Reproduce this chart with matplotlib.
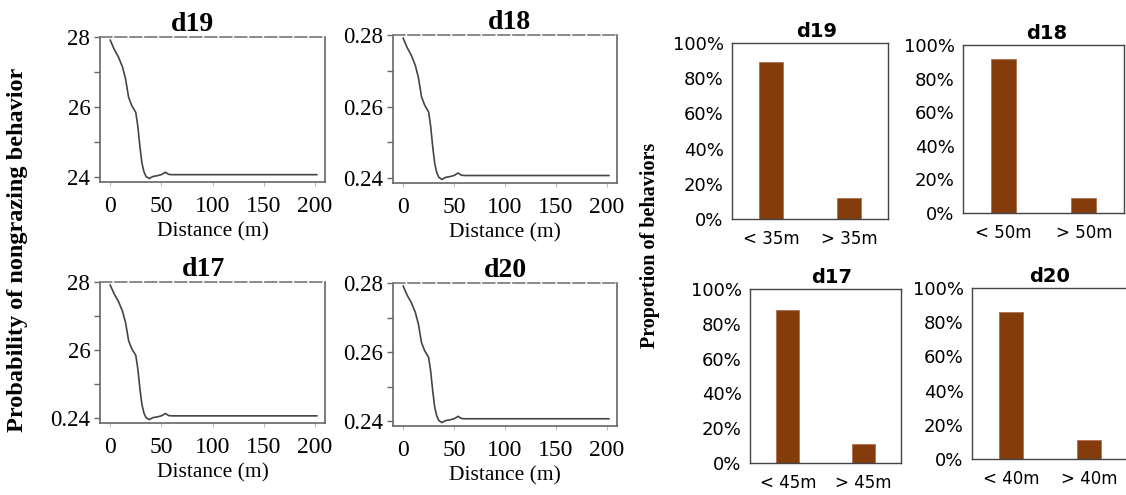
import matplotlib
matplotlib.use("Agg")
import matplotlib.pyplot as plt
from matplotlib.ticker import PercentFormatter

# smoothed probability curve (same shape in every line panel)
distance = [0, 4, 8, 12, 15, 18, 21, 25, 27, 29, 31, 33, 35, 38, 42, 46, 50, 54, 57, 60, 100, 150, 202]
probability = [0.2792, 0.2765, 0.2744, 0.2715, 0.2681, 0.2628, 0.2605, 0.2585, 0.2545, 0.2488,
               0.2440, 0.2415, 0.2402, 0.2396, 0.2402, 0.2404, 0.2407, 0.2414, 0.2408, 0.2407,
               0.2407, 0.2407, 0.2407]

line_titles = ["d19", "d18", "d17", "d20"]
line_ylabels = [["24", "26", "28"], ["0.24", "0.26", "0.28"],
                ["0.24", "26", "28"], ["0.24", "0.26", "0.28"]]

bar_titles = ["d19", "d18", "d17", "d20"]
bar_cats = [["< 35m", "> 35m"], ["< 50m", "> 50m"], ["< 45m", "> 45m"], ["< 40m", "> 40m"]]
bar_vals = [[0.89, 0.12], [0.915, 0.088], [0.877, 0.109], [0.861, 0.109]]

W, H = 1126, 495
fig = plt.figure(figsize=(W / 100, H / 100), dpi=100)


def rect(l, t, r, b):
    return [l / W, 1 - b / H, (r - l) / W, (b - t) / H]


serif = "Liberation Serif"

# left block: line plots
line_boxes = [(100, 37, 325, 182), (393, 35, 617, 183), (100, 282, 325, 423), (393, 283, 617, 426)]
title_x = [0.41, 0.52, 0.46, 0.50]
for i, box in enumerate(line_boxes):
    ax = fig.add_axes(rect(*box))
    ax.plot(distance, probability, color="#444444", lw=1.2)
    ax.set_xlim(-10, 210)
    ax.set_ylim(0.2386, 0.2801)
    ax.set_xticks([0, 50, 100, 150, 200])
    ax.set_yticks([0.24, 0.26, 0.28])
    ax.set_yticklabels(line_ylabels[i])
    ax.set_yticks([0.25, 0.27], minor=True)
    ax.tick_params(axis="y", which="both", length=4, width=1, color="#666666", pad=3)
    ax.tick_params(axis="x", length=3, width=0.8, color="#bbbbbb", pad=7)
    for lab in ax.get_xticklabels():
        lab.set_fontfamily(serif)
        lab.set_fontsize(17)
    for lab in ax.get_yticklabels():
        lab.set_fontfamily(serif)
        lab.set_fontsize(16.5)
    for s in ["left", "right", "bottom"]:
        ax.spines[s].set_color("#666666")
        ax.spines[s].set_linewidth(1.2)
    ax.spines["top"].set_color("#777777")
    ax.spines["top"].set_linewidth(1.2)
    ax.spines["top"].set_linestyle((0, (7, 2)))
    ax.set_xlabel("Distance (m)", fontfamily=serif, fontsize=15.5, labelpad=4)
    ax.set_title(line_titles[i], fontfamily=serif, fontsize=20, fontweight="bold", x=title_x[i], pad=3)

fig.text(18 / W, 1 - 250 / H, "Probability of nongrazing behavior", rotation=90,
         ha="center", va="center", fontfamily=serif, fontsize=17.5, fontweight="bold")

# right block: bar charts
bar_boxes = [(732, 43, 888, 219), (963, 45, 1124, 213), (750, 289, 901, 463), (972, 288, 1128, 459)]
bar_title_x = [0.54, 0.52, 0.54, 0.50]
for i, box in enumerate(bar_boxes):
    ax = fig.add_axes(rect(*box))
    ax.bar([0, 1], bar_vals[i], width=0.31, color="#843c0c", edgecolor="#b07050", linewidth=0.6)
    ax.set_xlim(-0.5, 1.5)
    ax.set_ylim(0, 1)
    ax.set_xticks([0, 1])
    ax.set_xticklabels(bar_cats[i])
    ax.set_yticks([0, 0.2, 0.4, 0.6, 0.8, 1.0])
    ax.yaxis.set_major_formatter(PercentFormatter(xmax=1, decimals=0))
    ax.tick_params(axis="y", length=0, labelsize=13, pad=6)
    ax.tick_params(axis="x", length=0, labelsize=12, pad=8)
    for s in ax.spines.values():
        s.set_color("#444444")
        s.set_linewidth(1.0)
    ax.set_title(bar_titles[i], fontsize=14, fontweight="bold", x=bar_title_x[i], pad=4)

fig.text(650 / W, 1 - 245 / H, "Proportion of behaviors", rotation=90,
         ha="center", va="center", fontfamily=serif, fontsize=14.5, fontweight="bold")

fig.savefig("out.png", dpi=100)
